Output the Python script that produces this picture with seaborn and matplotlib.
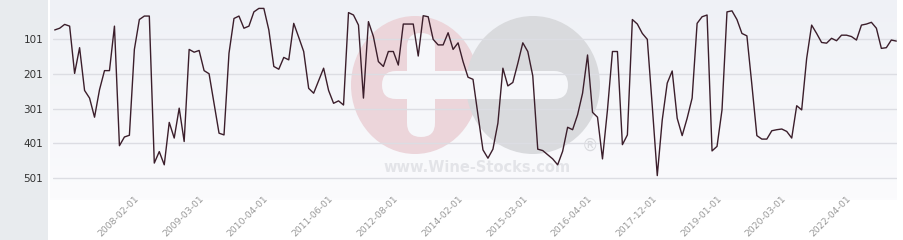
import matplotlib
matplotlib.use("Agg")
import matplotlib.pyplot as plt
import numpy as np
import pandas as pd
import seaborn as sns
from matplotlib.patches import Rectangle, Ellipse, FancyBboxPatch
from matplotlib.colors import LinearSegmentedColormap

# ---- data (rank over time, lower = better) ----
ranks = [75, 70, 59, 64, 200, 126, 249, 271, 326, 247,
         192, 192, 64, 408, 383, 378, 131, 45, 35, 35,
         458, 425, 463, 341, 386, 300, 396, 131, 139, 134,
         192, 201, 286, 372, 377, 142, 42, 35, 70, 64,
         23, 13, 13, 75, 180, 188, 154, 161, 56, 96,
         137, 243, 257, 221, 185, 249, 286, 279, 291, 25,
         32, 61, 271, 51, 94, 166, 180, 137, 137, 176,
         58, 58, 58, 150, 34, 37, 102, 118, 118, 83,
         131, 112, 166, 211, 217, 320, 420, 444, 418, 343,
         185, 236, 226, 171, 112, 137, 207, 418, 422, 434,
         446, 463, 424, 355, 362, 319, 257, 147, 312, 326,
         446, 305, 137, 137, 405, 377, 45, 58, 85, 102,
         295, 494, 334, 228, 193, 329, 379, 329, 271, 56,
         37, 32, 423, 410, 305, 23, 20, 45, 85, 92,
         233, 379, 389, 389, 365, 362, 360, 367, 386, 293,
         305, 157, 61, 85, 111, 113, 99, 106, 90, 90,
         94, 104, 61, 58, 53, 70, 128, 126, 104, 107]
tick_labels = ["2008-02-01", "2009-03-01", "2010-04-01", "2011-06-01",
               "2012-08-01", "2014-02-01", "2015-03-01", "2016-04-01",
               "2017-12-01", "2019-01-01", "2020-03-01", "2022-04-01"]
first_tick = 16
tick_step = 13
y_ticks = [101, 201, 301, 401, 501]

df = pd.DataFrame({"idx": np.arange(len(ranks)), "rank": ranks})

sns.set_theme(style="white")
plt.rcParams["font.family"] = ["DejaVu Sans"]

W, H = 904, 240
fig = plt.figure(figsize=(W / 100, H / 100), dpi=100)
fig.patch.set_facecolor("white")

# background / watermark layer in pixel coordinates
bg = fig.add_axes([0, 0, 1, 1], zorder=0)
bg.axis("off")
bg.add_patch(Rectangle((0, 0), 48, H, color="#e8ebee", lw=0))
grad = np.linspace(0, 1, 100).reshape(-1, 1)
cmap = LinearSegmentedColormap.from_list("bgc", ["#eff1f6", "#fbfbfd"])
bg.imshow(grad, cmap=cmap, extent=(50, 897, 200, 0), aspect="auto", zorder=0)
bg.set_xlim(0, W)
bg.set_ylim(H, 0)
# watermark
bg.add_patch(Ellipse((415, 85), 128, 138, color="#ecd5da", lw=0, zorder=1))
bg.add_patch(Ellipse((533, 85), 134, 138, color="#d9dadd", lw=0, zorder=1))
bg.add_patch(FancyBboxPatch((382, 71), 186, 28, boxstyle="round,pad=0,rounding_size=14",
                            color="#f6f7fa", lw=0, zorder=2))
bg.add_patch(FancyBboxPatch((407, 33), 28, 104, boxstyle="round,pad=0,rounding_size=14",
                            color="#f6f7fa", lw=0, zorder=2))
bg.text(477, 167, "www.Wine-Stocks.com", fontsize=10.5, fontweight="bold",
        color="#e3e4e8", ha="center", va="center", zorder=2)
bg.text(590, 146, "®", fontsize=12, color="#d9dade", ha="center", va="center", zorder=2)

# main plot axes
left, right, top, bottom = 53, 897, 0, 198
ax = fig.add_axes([left / W, (H - bottom) / H, (right - left) / W, (bottom - top) / H], zorder=1)
ax.patch.set_alpha(0)

sns.lineplot(data=df, x="idx", y="rank", ax=ax, color="#3b1e2b", lw=1.0)

ax.set_xlim(-0.34, 169.14)
ax.set_ylim(558.5, -11.2)
ax.set_yticks(y_ticks)
ax.set_yticklabels([str(v) for v in y_ticks], fontsize=7.5, color="#333333")
xt = list(range(first_tick, first_tick + tick_step * len(tick_labels), tick_step))
ax.set_xticks(xt)
ax.set_xticklabels(tick_labels, rotation=45, ha="right", rotation_mode="anchor",
                   fontsize=6.7, color="#999999")
ax.tick_params(axis="y", length=0, pad=7)
ax.tick_params(axis="x", length=0, pad=-2.8, bottom=True)
ax.set_xlabel("")
ax.set_ylabel("")
ax.grid(axis="y", color="#dcdde3", lw=1.0)
ax.grid(axis="x", visible=False)
for s in ax.spines.values():
    s.set_visible(False)

fig.savefig("out.png", dpi=100)
